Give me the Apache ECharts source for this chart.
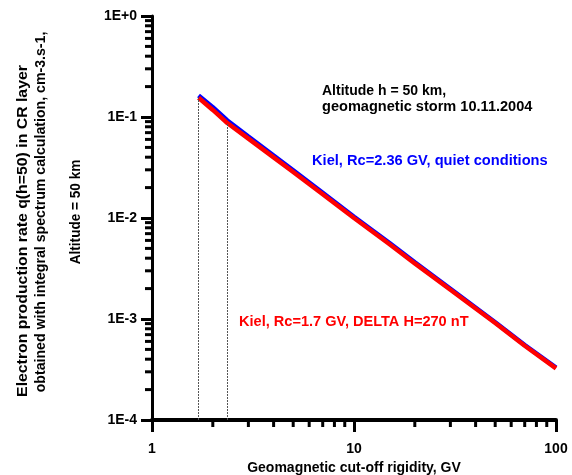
<!DOCTYPE html>
<html>
<head>
<meta charset="utf-8">
<script src="https://cdn.jsdelivr.net/npm/echarts@6/dist/echarts.min.js"></script>
<style>
html,body{margin:0;padding:0;background:#fff;}
#chart{width:572px;height:475px;}
</style>
</head>
<body>
<div id="chart"></div>
<script>
// ---- data ----
const rigidity = [1.7, 2, 2.36, 3, 4, 5, 7, 10, 15, 20, 30, 50, 70, 100];
const quietRate = [0.163, 0.125, 0.0925, 0.0640, 0.0415, 0.0296, 0.0178, 0.0103, 0.00565, 0.00364, 0.00199, 0.00093, 0.000553, 0.00033];
const stormRate = [0.155, 0.1175, 0.0871, 0.0610, 0.0398, 0.0285, 0.0172, 0.0100, 0.0055, 0.00355, 0.00195, 0.000912, 0.000543, 0.000324];
const cutoffMarks = [1.7, 2.36];
const xMin = 1, xMax = 100, yMin = 1e-4, yMax = 1;
const xMinorTicks = [2, 3, 4, 5, 6, 7, 8, 9, 20, 30, 40, 50, 60, 70, 80, 90];
const yMinorTicks = [2e-4, 3e-4, 4e-4, 5e-4, 6e-4, 7e-4, 8e-4, 9e-4,
  2e-3, 3e-3, 4e-3, 5e-3, 6e-3, 7e-3, 8e-3, 9e-3,
  2e-2, 3e-2, 4e-2, 5e-2, 6e-2, 7e-2, 8e-2, 9e-2,
  2e-1, 3e-1, 4e-1, 5e-1, 6e-1, 7e-1, 8e-1, 9e-1];
const quietLabel = 'Kiel, Rc=2.36 GV, quiet conditions';
const stormLabel = 'Kiel, Rc=1.7 GV, DELTA H=270 nT';
const titleLines = ['Altitude h = 50 km,', 'geomagnetic storm 10.11.2004'];
const yTitle1 = 'Electron production rate q(h=50) in CR layer';
const yTitle2 = 'obtained with integral spectrum calculation, cm-3.s-1,';
const yTitle3 = 'Altitude = 50 km';
const xTitle = 'Geomagnetic cut-off rigidity, GV';

const FONT = '"Liberation Sans", Arial, sans-serif';
const chart = echarts.init(document.getElementById('chart'));

function tickRender(dir) {
  return function (params, api) {
    const p = api.coord([api.value(0), api.value(1)]);
    const len = 7;
    const shape = dir === 'x'
      ? { x1: p[0], y1: p[1], x2: p[0], y2: p[1] + len }
      : { x1: p[0] - len, y1: p[1], x2: p[0], y2: p[1] };
    return { type: 'line', shape: shape, style: { stroke: '#000', lineWidth: 3 } };
  };
}

function vText(text, x, y, sx) {
  return { type: 'text', x: x, y: y, rotation: Math.PI / 2, scaleX: sx, scaleY: 1,
    style: { text: text, fontSize: 14, fontWeight: 'bold', fontFamily: FONT, fill: '#000', align: 'center', verticalAlign: 'middle' } };
}
function hText(text, x, y, sx, color) {
  return { type: 'text', x: x, y: y, scaleX: sx, scaleY: 1,
    style: { text: text, fontSize: 14, fontWeight: 'bold', fontFamily: FONT, fill: color, align: 'left', verticalAlign: 'middle' } };
}

const option = {
  backgroundColor: '#fff',
  animation: false,
  grid: { left: 152, top: 16, right: 16, bottom: 55, containLabel: false, outerBoundsMode: 'none' },
  xAxis: {
    type: 'log', logBase: 10, min: xMin, max: xMax,
    name: xTitle, nameLocation: 'middle', nameGap: 39,
    nameTextStyle: { fontFamily: FONT, fontWeight: 'bold', fontSize: 14, color: '#000' },
    axisLine: { show: true, lineStyle: { color: '#000', width: 4 } },
    axisTick: { show: true, length: 12, inside: false, lineStyle: { color: '#000', width: 3 } },
    axisLabel: { margin: 22, fontFamily: FONT, fontWeight: 'bold', fontSize: 14, color: '#000' },
    splitLine: { show: false }
  },
  yAxis: {
    type: 'log', logBase: 10, min: yMin, max: yMax,
    axisLine: { show: true, lineStyle: { color: '#000', width: 3 } },
    axisTick: { show: true, length: 11, inside: false, lineStyle: { color: '#000', width: 3 } },
    axisLabel: {
      margin: 15, fontFamily: FONT, fontWeight: 'bold', fontSize: 14, color: '#000',
      formatter: function (v) {
        const e = Math.round(Math.log10(v));
        return '1E' + (e >= 0 ? '+' : '') + e;
      }
    },
    splitLine: { show: false }
  },
  graphic: [
    vText(yTitle1, 23, 231, 1.13),
    vText(yTitle2, 41, 212, 1.01),
    vText(yTitle3, 76, 212, 0.97),
    hText(titleLines[0], 322, 91, 1, '#000'),
    hText(titleLines[1], 322, 107, 1.04, '#000'),
    hText(quietLabel, 312, 161, 1.045, '#0000ff'),
    hText(stormLabel, 239, 322, 1.04, '#ff0000')
  ],
  series: [
    {
      type: 'line', name: 'quiet', data: rigidity.map((x, i) => [x, quietRate[i]]),
      symbol: 'none', lineStyle: { color: '#0000ff', width: 4.5 }, z: 3
    },
    {
      type: 'line', name: 'storm', data: rigidity.map((x, i) => [x, stormRate[i]]),
      symbol: 'none', lineStyle: { color: '#ff0000', width: 4.5 }, z: 4,
      markLine: {
        silent: true, symbol: 'none', label: { show: false },
        lineStyle: { color: '#555', width: 1, type: [2, 1] },
        data: cutoffMarks.map(x => {
          const i = rigidity.indexOf(x);
          return [{ coord: [x, yMin] }, { coord: [x, stormRate[i]] }];
        })
      }
    },
    {
      type: 'custom', name: 'xMinor', clip: false, silent: true,
      renderItem: tickRender('x'),
      data: xMinorTicks.map(v => [v, yMin]), z: 10
    },
    {
      type: 'custom', name: 'yMinor', clip: false, silent: true,
      renderItem: tickRender('y'),
      data: yMinorTicks.map(v => [xMin, v]), z: 10
    }
  ]
};
chart.setOption(option);
</script>
</body>
</html>
